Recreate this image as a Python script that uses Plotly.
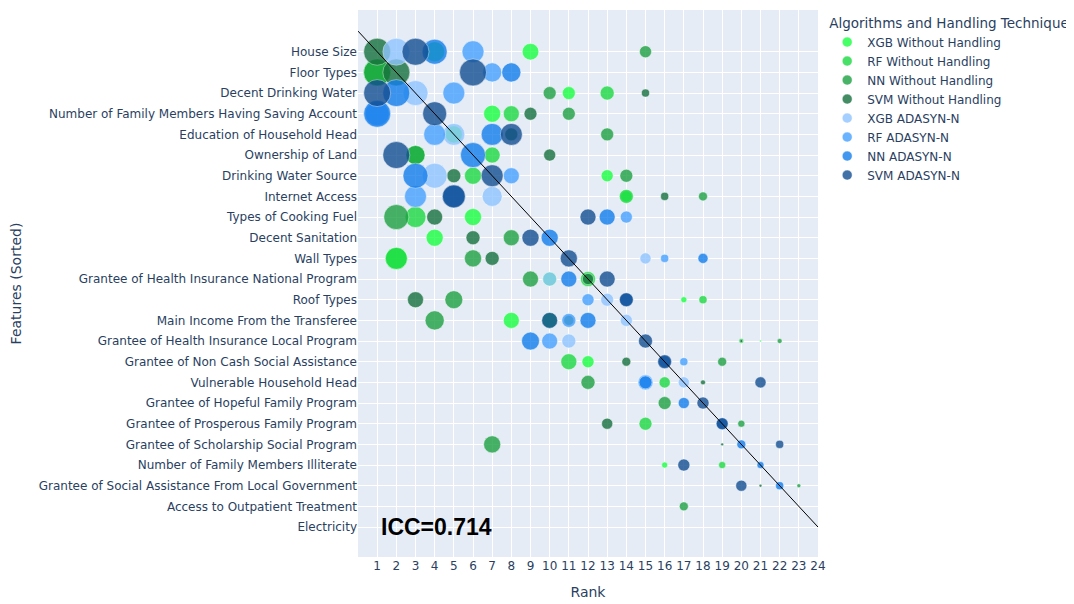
import plotly.graph_objects as go

features = [
    "House Size", "Floor Types", "Decent Drinking Water",
    "Number of Family Members Having Saving Account", "Education of Household Head",
    "Ownership of Land", "Drinking Water Source", "Internet Access",
    "Types of Cooking Fuel", "Decent Sanitation", "Wall Types",
    "Grantee of Health Insurance National Program", "Roof Types",
    "Main Income From the Transferee", "Grantee of Health Insurance Local Program",
    "Grantee of Non Cash Social Assistance", "Vulnerable Household Head",
    "Grantee of Hopeful Family Program", "Grantee of Prosperous Family Program",
    "Grantee of Scholarship Social Program", "Number of Family Members Illiterate",
    "Grantee of Social Assistance From Local Government",
    "Access to Outpatient Treatment", "Electricity",
]

N = None
# ranks per model (aligned with features); None = not shown
xgb_wh_rank = [9, 1, 11, 7, 5, 3, 13, 14, 6, 4, 2, 10, 17, 8, 21, 12, N, N, N, N, 16, N, N, N]
rf_wh_rank = [4, 1, 13, 8, N, 7, 6, 14, 3, N, 2, 12, 18, 10, 20, 11, 16, N, 15, N, 19, N, N, N]
nn_wh_rank = [15, 1, 10, 11, 13, 3, 14, 18, 2, 8, 6, 9, 5, 4, 22, 19, 12, 16, 20, 7, N, 23, 17, N]
svm_wh_rank = [1, 2, 15, 9, 8, 10, 5, 16, 4, 6, 7, 12, 3, 11, 20, 14, 18, N, 13, 19, N, 21, N, N]
xgb_ad_rank = [2, N, 3, N, 5, N, 4, 7, N, N, 15, 10, 13, 14, 11, N, 17, N, N, N, N, N, N, N]
rf_ad_rank = [6, 7, 5, 1, 4, N, 8, 3, 14, N, 16, N, 12, 11, 10, 17, 15, N, N, N, N, N, N, N]
nn_ad_rank = [4, 8, 2, 1, 7, 6, 3, 5, 13, 10, 18, 11, 14, 12, 9, 16, 15, 17, 19, 20, 21, 22, N, N]
svm_ad_rank = [3, 6, 1, 4, 8, 2, 7, 5, 12, 9, 11, 13, 14, 10, 15, 16, 21, 18, 19, 22, 17, 20, N, N]

# relative feature importance per model (estimated)
xgb_wh_imp = [38, 100, 23, 40, 40, 50, 20, 17, 40, 40, 66, 27, 5, 35, 0.5, 20, N, N, N, N, 5, N, N, N]
rf_wh_imp = [55, 100, 27, 35, N, 35, 40, 27, 60, N, 66, 31, 9, 31, 3.4, 35, 17, N, 23, N, 7, N, N, N]
nn_wh_imp = [20, 100, 23, 23, 23, 50, 23, 11, 86, 35, 40, 35, 44, 50, 3.4, 11, 27, 23, 7, 40, N, 2.2, 11, N]
svm_wh_imp = [100, 100, 9, 23, 23, 20, 27, 9, 35, 27, 27, 17, 35, 14, 1.2, 11, 3.4, N, 17, 1.2, N, 1.2, N, N]
xgb_ad_imp = [100, N, 86, N, 66, N, 86, 55, N, N, 17, 27, 23, 20, 27, N, 17, N, N, N, N, N, N, N]
rf_ad_imp = [66, 50, 66, 79, 66, N, 35, 66, 20, N, 9, N, 20, 27, 35, 9, 31, N, N, N, N, N, N, N]
nn_ad_imp = [86, 50, 100, 100, 66, 86, 86, 66, 35, 40, 14, 35, 23, 35, 44, 20, 23, 17, 17, 11, 7, 9, N, N]
svm_ad_imp = [100, 100, 100, 79, 66, 100, 66, 73, 35, 40, 40, 35, 27, 35, 27, 27, 17, 20, 20, 9, 20, 17, N, N]

models = [
    ("XGB Without Handling", xgb_wh_rank, xgb_wh_imp, "#1AFF40"),
    ("RF Without Handling", rf_wh_rank, rf_wh_imp, "#1CD942"),
    ("NN Without Handling", nn_wh_rank, nn_wh_imp, "#1CA142"),
    ("SVM Without Handling", svm_wh_rank, svm_wh_imp, "#16713E"),
    ("XGB ADASYN-N", xgb_ad_rank, xgb_ad_imp, "#8FC4FF"),
    ("RF ADASYN-N", rf_ad_rank, rf_ad_imp, "#46A1FF"),
    ("NN ADASYN-N", nn_ad_rank, nn_ad_imp, "#137EEC"),
    ("SVM ADASYN-N", svm_ad_rank, svm_ad_imp, "#124E92"),
]

icc_text = "ICC=0.714"

fig = go.Figure()
for name, ranks, imps, color in models:
    xs, ys, ss = [], [], []
    for i, (r, s) in enumerate(zip(ranks, imps)):
        if r is None:
            continue
        xs.append(r)
        ys.append(i)
        ss.append(s)
    fig.add_trace(go.Scatter(
        x=xs, y=ys, mode="markers", name=name, legendgroup=name, showlegend=False,
        marker=dict(size=ss, sizemode="area", sizeref=2 * 100 / 27 ** 2,
                    color=color, opacity=0.8,
                    line=dict(width=0.5, color="white")),
        text=[features[i] for i in ys],
    ))
for name, ranks, imps, color in models:
    fig.add_trace(go.Scatter(
        x=[None], y=[None], mode="markers", name=name, legendgroup=name,
        marker=dict(size=10, color=color, opacity=0.8, line=dict(width=0.5, color="white")),
    ))

fig.add_shape(type="line", x0=0, y0=-1, x1=24, y1=23, xref="x", yref="y",
              line=dict(color="black", width=1))

fig.add_annotation(x=1.1, y=23, xref="x", yref="y", text=f"<b>{icc_text}</b>",
                   showarrow=False, xanchor="left", yanchor="middle",
                   font=dict(family="Arial", size=23, color="black"))

fig.update_layout(
    width=1066, height=596,
    margin=dict(l=350, r=256, t=2, b=47),
    template="plotly",
    font=dict(family="Verdana, DejaVu Sans, sans-serif", size=12, color="#2a3f5f"),
    legend=dict(title=dict(text="Algorithms and Handling Technique", font=dict(size=13.5)),
                x=1.02, y=1, xanchor="left", yanchor="top", tracegroupgap=0),
    xaxis=dict(title=dict(text="Rank"), range=[0, 24], tickmode="array",
               tickvals=list(range(1, 25)), zeroline=False, automargin=False),
    yaxis=dict(title=dict(text="Features (Sorted)"), range=[24.45, -2.02], tickmode="array",
               tickvals=list(range(len(features))), ticktext=features,
               zeroline=False, automargin=False),
)

fig.write_html("out.html")
